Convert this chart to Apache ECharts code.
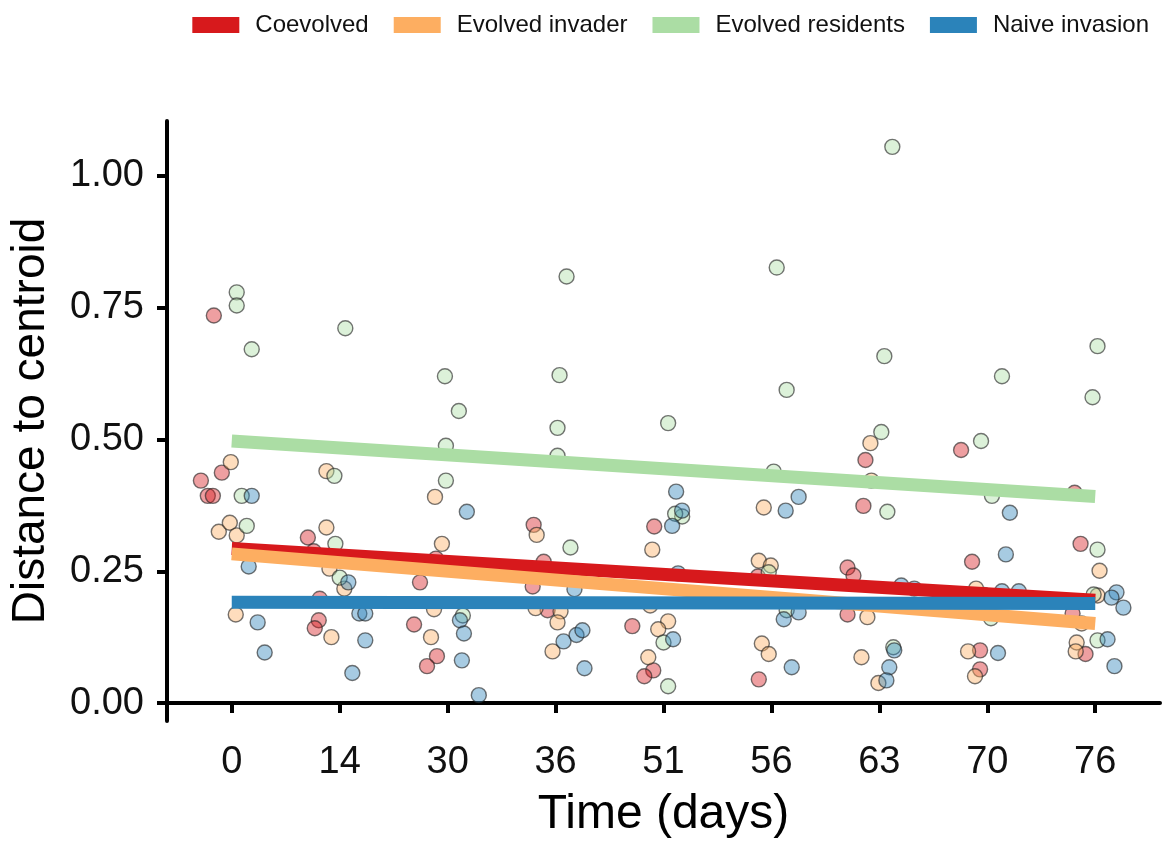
<!DOCTYPE html>
<html>
<head>
<meta charset="utf-8">
<script src="https://cdn.jsdelivr.net/npm/echarts@6/dist/echarts.min.js"></script>
<style>
  html, body { margin: 0; padding: 0; background: #fff; }
  #chart { width: 1162px; height: 844px; }
</style>
</head>
<body>
<div id="chart"></div>
<script>
// Sampling days, shown as evenly spaced discrete positions
const timeLabels = ['0', '14', '30', '36', '51', '56', '63', '70', '76'];
const yTicks = [0, 0.25, 0.5, 0.75, 1.0];

// Each point: [time index, horizontal jitter (in category widths), distance to centroid]
const coevolved = [
  [0, -0.166, 0.735], [0, -0.286, 0.422], [0, -0.092, 0.437], [0, -0.222, 0.393], [0, -0.175, 0.393],
  [1, -0.295, 0.314], [1, -0.185, 0.198], [1, -0.194, 0.157], [1, -0.231, 0.142], [1, -0.240, 0.288],
  [2, -0.256, 0.229], [2, -0.311, 0.149], [2, -0.099, 0.089], [2, -0.191, 0.070], [2, -0.108, 0.274],
  [3, -0.203, 0.338], [3, -0.212, 0.221], [3, -0.074, 0.176], [3, -0.110, 0.268],
  [4, -0.086, 0.335], [4, -0.289, 0.146], [4, -0.095, 0.062], [4, -0.178, 0.051],
  [5, -0.117, 0.045], [5, -0.126, 0.240],
  [6, -0.129, 0.461], [6, -0.148, 0.374], [6, -0.295, 0.257], [6, -0.240, 0.242], [6, -0.295, 0.168],
  [7, -0.243, 0.480], [7, -0.141, 0.268], [7, -0.067, 0.100], [7, -0.067, 0.064],
  [8, -0.191, 0.399], [8, -0.136, 0.302], [8, -0.210, 0.170], [8, -0.090, 0.093]
];
const evolvedInvader = [
  [0, -0.009, 0.457], [0, -0.120, 0.325], [0, -0.018, 0.342], [0, 0.046, 0.318], [0, 0.037, 0.168],
  [1, -0.123, 0.440], [1, -0.123, 0.333], [1, -0.095, 0.255], [1, 0.043, 0.217], [1, -0.077, 0.125],
  [2, -0.117, 0.391], [2, -0.053, 0.302], [2, -0.126, 0.178], [2, -0.154, 0.125],
  [3, -0.175, 0.319], [3, -0.185, 0.180], [3, 0.046, 0.174], [3, 0.018, 0.153], [3, -0.028, 0.098],
  [4, -0.104, 0.291], [4, 0.043, 0.155], [4, -0.049, 0.140], [4, -0.141, 0.087], [4, -0.123, 0.185],
  [5, -0.071, 0.371], [5, -0.117, 0.270], [5, -0.006, 0.261], [5, -0.089, 0.113], [5, -0.025, 0.093],
  [6, -0.083, 0.493], [6, -0.074, 0.422], [6, -0.111, 0.163], [6, -0.166, 0.087], [6, -0.009, 0.038],
  [7, -0.104, 0.217], [7, -0.178, 0.098], [7, -0.114, 0.051], [7, -0.030, 0.205],
  [8, 0.040, 0.251], [8, 0.021, 0.204], [8, -0.126, 0.151], [8, -0.172, 0.115], [8, -0.181, 0.098]
];
const evolvedResidents = [
  [0, 0.046, 0.779], [0, 0.046, 0.754], [0, 0.185, 0.671], [0, 0.092, 0.393], [0, 0.139, 0.336],
  [1, -0.049, 0.431], [1, 0.052, 0.711], [1, -0.040, 0.302], [1, 0.000, 0.238],
  [2, -0.025, 0.620], [2, 0.104, 0.554], [2, -0.016, 0.488], [2, -0.016, 0.422], [2, 0.141, 0.166],
  [3, 0.102, 0.809], [3, 0.037, 0.622], [3, 0.018, 0.522], [3, 0.018, 0.469], [3, 0.138, 0.295],
  [4, 0.173, 0.354], [4, 0.108, 0.359], [4, 0.000, 0.115], [4, 0.043, 0.032], [4, 0.043, 0.531],
  [5, 0.049, 0.826], [5, 0.141, 0.594], [5, 0.021, 0.439], [5, -0.025, 0.248], [5, 0.141, 0.176],
  [6, 0.120, 1.055], [6, 0.046, 0.658], [6, 0.018, 0.514], [6, 0.074, 0.363], [6, 0.129, 0.106],
  [7, 0.136, 0.620], [7, -0.058, 0.497], [7, 0.043, 0.393], [7, 0.034, 0.161],
  [8, 0.021, 0.677], [8, -0.025, 0.580], [8, 0.021, 0.291], [8, -0.015, 0.206], [8, 0.021, 0.119]
];
const naiveInvasion = [
  [0, 0.185, 0.393], [0, 0.157, 0.259], [0, 0.240, 0.153], [0, 0.305, 0.096],
  [1, 0.080, 0.229], [1, 0.182, 0.170], [1, 0.237, 0.170], [1, 0.237, 0.119], [1, 0.117, 0.057],
  [2, 0.178, 0.363], [2, 0.114, 0.157], [2, 0.151, 0.132], [2, 0.132, 0.081], [2, 0.289, 0.015],
  [3, 0.175, 0.216], [3, 0.074, 0.117], [3, 0.194, 0.129], [3, 0.249, 0.138], [3, 0.268, 0.066],
  [4, 0.117, 0.401], [4, 0.080, 0.336], [4, 0.172, 0.365], [4, 0.089, 0.121], [4, 0.135, 0.246],
  [5, 0.132, 0.365], [5, 0.252, 0.391], [5, 0.114, 0.159], [5, 0.252, 0.172], [5, 0.188, 0.068],
  [6, 0.203, 0.223], [6, 0.138, 0.100], [6, 0.092, 0.068], [6, 0.065, 0.043], [6, 0.323, 0.217],
  [7, 0.209, 0.361], [7, 0.172, 0.282], [7, 0.136, 0.212], [7, 0.292, 0.212], [7, 0.099, 0.095],
  [8, 0.197, 0.210], [8, 0.151, 0.200], [8, 0.261, 0.181], [8, 0.114, 0.121], [8, 0.178, 0.070]
];

// Linear trend per treatment: fitted value at first and last sampling day
const coevolvedTrend = [0.293, 0.195];
const evolvedInvaderTrend = [0.283, 0.151];
const evolvedResidentsTrend = [0.497, 0.392];
const naiveInvasionTrend = [0.191, 0.189];

const groups = [
  { name: 'Coevolved', pts: coevolved, trend: coevolvedTrend, color: '#D7191C', fill: 'rgba(215,25,28,0.52)' },
  { name: 'Evolved invader', pts: evolvedInvader, trend: evolvedInvaderTrend, color: '#FDAE61', fill: 'rgba(253,174,97,0.52)' },
  { name: 'Evolved residents', pts: evolvedResidents, trend: evolvedResidentsTrend, color: '#ABDDA4', fill: 'rgba(171,221,164,0.52)' },
  { name: 'Naive invasion', pts: naiveInvasion, trend: naiveInvasionTrend, color: '#2B83BA', fill: 'rgba(43,131,186,0.52)' }
];

const FONT = '"Liberation Sans", Arial, sans-serif';
const lastPos = timeLabels.length;

// Jittered replicate points (kept out of the legend)
const scatterSeries = groups.map(g => ({
  name: g.name + ' replicates',
  type: 'scatter',
  symbolSize: 15,
  data: g.pts.map(p => [p[0] + 1 + p[1], p[2]]),
  itemStyle: { color: g.fill, borderColor: 'rgba(35,35,35,0.78)', borderWidth: 1.4 },
  emphasis: { disabled: true },
  z: 2
}));

// Trend lines drawn over the points, in legend order
const trendSeries = groups.map((g, i) => ({
  name: g.name,
  type: 'line',
  symbol: 'none',
  data: [[1, g.trend[0]], [lastPos, g.trend[1]]],
  lineStyle: { color: g.color, width: 13, cap: 'butt' },
  itemStyle: { color: g.color },
  emphasis: { disabled: true },
  z: 3 + i
}));

const chart = echarts.init(document.getElementById('chart'));
chart.setOption({
  animation: false,
  backgroundColor: '#ffffff',
  legend: {
    top: 8,
    right: 8,
    itemWidth: 47,
    itemHeight: 16,
    itemGap: 25,
    icon: 'rect',
    itemStyle: { borderWidth: 0, opacity: 1 },
    textStyle: { fontFamily: FONT, fontSize: 24, color: '#111', padding: [0, 0, 0, 11] },
    data: groups.map(g => ({ name: g.name, itemStyle: { color: g.color, borderWidth: 0, opacity: 1 } }))
  },
  grid: { left: 165, right: 2, top: 121, bottom: 121, containLabel: false },
  xAxis: {
    type: 'value',
    min: 0.4,
    max: lastPos + 0.6,
    name: 'Time (days)',
    nameLocation: 'middle',
    nameGap: 70,
    nameTextStyle: { fontFamily: FONT, fontSize: 48, color: '#000' },
    splitLine: { show: false },
    axisLine: { show: true, lineStyle: { color: '#000', width: 4 } },
    axisTick: { show: true, length: 10, lineStyle: { color: '#000', width: 4 }, customValues: timeLabels.map((_, i) => i + 1) },
    axisLabel: {
      fontFamily: FONT, fontSize: 38, color: '#111', margin: 23,
      customValues: timeLabels.map((_, i) => i + 1),
      formatter: v => timeLabels[Math.round(v) - 1]
    }
  },
  yAxis: {
    type: 'value',
    min: -0.034,
    max: 1.104,
    name: 'Distance to centroid',
    nameLocation: 'middle',
    nameGap: 113,
    nameTextStyle: { fontFamily: FONT, fontSize: 46, color: '#000' },
    splitLine: { show: false },
    axisLine: { show: true, lineStyle: { color: '#000', width: 4 } },
    axisTick: { show: true, length: 10, lineStyle: { color: '#000', width: 4 }, customValues: yTicks },
    axisLabel: {
      fontFamily: FONT, fontSize: 38, color: '#111', margin: 23,
      customValues: yTicks,
      formatter: v => v.toFixed(2)
    }
  },
  series: scatterSeries.concat(trendSeries)
});
</script>
</body>
</html>
